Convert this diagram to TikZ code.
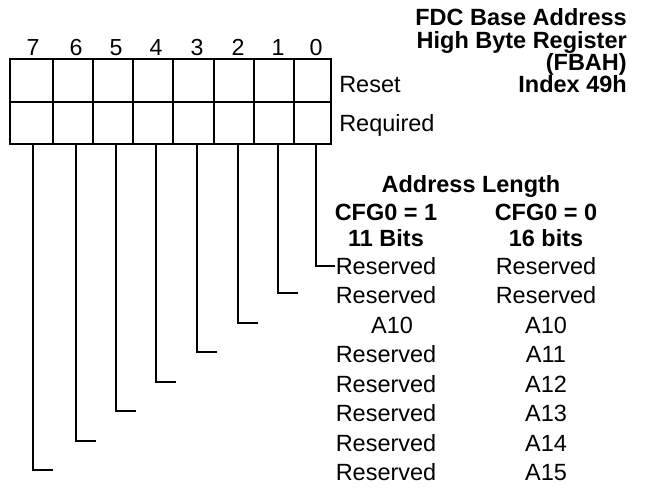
\documentclass[tikz,border=0pt]{standalone}
\usepackage{fontspec}
\setmainfont{Liberation Sans}
\usetikzlibrary{positioning}

\begin{document}
\begin{tikzpicture}[
	txt/.style={font=\fontsize{16.7}{20}\selectfont, inner sep=0pt},
	hdr/.style={font=\fontsize{16.7}{20}\selectfont\bfseries, inner sep=0pt},
	bitno/.style={font=\fontsize{16.5}{20}\selectfont, inner sep=0pt, anchor=base},
	leader/.style={line width=1.3pt}]
	\useasboundingbox (0, 0) rectangle (16.125, 12.475);
	% Register cells:
	\draw[line width=2.1pt] (0.25, 8.875) rectangle (8.275, 11);
	\draw[line width=1.4pt] (0.25, 9.925) -- (8.275, 9.925);
	\draw[line width=1.4pt] (1.325, 8.875) -- (1.325, 11);
	\draw[line width=1.4pt] (2.325, 8.875) -- (2.325, 11);
	\draw[line width=1.4pt] (3.325, 8.875) -- (3.325, 11);
	\draw[line width=1.4pt] (4.325, 8.875) -- (4.325, 11);
	\draw[line width=1.4pt] (5.35, 8.875) -- (5.35, 11);
	\draw[line width=1.4pt] (6.35, 8.875) -- (6.35, 11);
	\draw[line width=1.4pt] (7.35, 8.875) -- (7.35, 11);
	% Bit numbers:
	\node[bitno] (n7) at (0.825, 11.0875){7};
	\node[bitno] (n6) at (1.9, 11.0875){6};
	\node[bitno] (n5) at (2.9, 11.0875){5};
	\node[bitno] (n4) at (3.9, 11.0875){4};
	\node[bitno] (n3) at (4.925, 11.0875){3};
	\node[bitno] (n2) at (5.95, 11.0875){2};
	\node[bitno] (n1) at (6.95, 11.0875){1};
	\node[bitno] (n0) at (7.9, 11.0875){0};
	\node[txt, anchor=base west] (reset) at (8.475, 10.15){Reset};
	\node[txt, anchor=base west] (required) at (8.475, 9.175){Required};
	% Title:
	\node[hdr, anchor=base east] (title1) at (15.675, 11.825){FDC Base Address};
	\node[hdr, anchor=base east] (title2) at (15.675, 11.25){High Byte Register};
	\node[hdr, anchor=base east] (title3) at (15.675, 10.7){(FBAH)};
	\node[hdr, anchor=base east] (title4) at (15.675, 10.15){Index 49h};
	% Address length table:
	\node[hdr, anchor=base] (alen) at (11.775, 7.6625){Address Length};
	\node[hdr, anchor=base] (cfga) at (9.65, 6.9625){CFG0 = 1};
	\node[hdr, anchor=base] (cfgb) at (13.65, 6.9625){CFG0 = 0};
	\node[hdr, anchor=base] (bitsa) at (9.65, 6.3125){11 Bits};
	\node[hdr, anchor=base] (bitsb) at (13.65, 6.3125){16 bits};
	\node[txt, anchor=base] (r0) at (9.65, 5.6125){Reserved};
	\node[txt, anchor=base] (s0) at (13.65, 5.6125){Reserved};
	\node[txt, anchor=base] (r1) at (9.65, 4.875){Reserved};
	\node[txt, anchor=base] (s1) at (13.65, 4.875){Reserved};
	\node[txt, anchor=base] (r2) at (9.8, 4.1375){A10};
	\node[txt, anchor=base] (s2) at (13.65, 4.1375){A10};
	\node[txt, anchor=base] (r3) at (9.65, 3.4){Reserved};
	\node[txt, anchor=base] (s3) at (13.65, 3.4){A11};
	\node[txt, anchor=base] (r4) at (9.65, 2.6625){Reserved};
	\node[txt, anchor=base] (s4) at (13.65, 2.6625){A12};
	\node[txt, anchor=base] (r5) at (9.65, 1.925){Reserved};
	\node[txt, anchor=base] (s5) at (13.65, 1.925){A13};
	\node[txt, anchor=base] (r6) at (9.65, 1.1875){Reserved};
	\node[txt, anchor=base] (s6) at (13.65, 1.1875){A14};
	\node[txt, anchor=base] (r7) at (9.65, 0.45){Reserved};
	\node[txt, anchor=base] (s7) at (13.65, 0.45){A15};
	% Leaders:
	\coordinate (b7) at (0.825, 8.875);
	\coordinate (b6) at (1.9, 8.875);
	\coordinate (b5) at (2.9, 8.875);
	\coordinate (b4) at (3.9, 8.875);
	\coordinate (b3) at (4.925, 8.875);
	\coordinate (b2) at (5.95, 8.875);
	\coordinate (b1) at (6.95, 8.875);
	\coordinate (b0) at (7.9, 8.875);
	\coordinate (e7) at (1.325, 0.725);
	\coordinate (e6) at (2.4, 1.45);
	\coordinate (e5) at (3.4, 2.2);
	\coordinate (e4) at (4.4, 2.925);
	\coordinate (e3) at (5.425, 3.675);
	\coordinate (e2) at (6.45, 4.4);
	\coordinate (e1) at (7.45, 5.15);
	\draw[leader] (b7) |- (e7);
	\draw[leader] (b6) |- (e6);
	\draw[leader] (b5) |- (e5);
	\draw[leader] (b4) |- (e4);
	\draw[leader] (b3) |- (e3);
	\draw[leader] (b2) |- (e2);
	\draw[leader] (b1) |- (e1);
	\draw[leader] (b0) |- (r0.west);
\end{tikzpicture}
\end{document}
